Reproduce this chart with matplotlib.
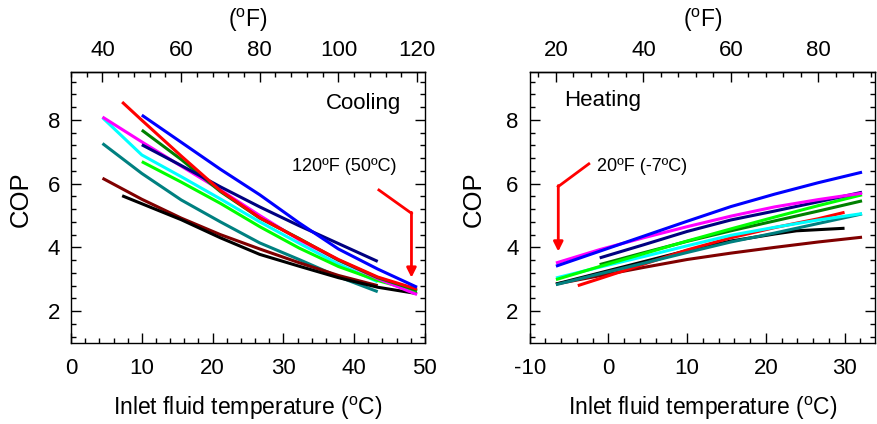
import matplotlib
matplotlib.use("Agg")
import matplotlib.pyplot as plt
from matplotlib.ticker import MultipleLocator

plt.rcParams['font.family'] = ['Liberation Sans', 'DejaVu Sans']
plt.rcParams['mathtext.fontset'] = 'custom'
plt.rcParams['mathtext.rm'] = 'Liberation Sans'
plt.rcParams['axes.unicode_minus'] = False

# Cooling mode: inlet fluid temperature (F) and COP per unit
cool_f_40 = [40, 50, 60, 70, 80, 90, 100, 110, 120]
cool_f_40_110 = [40, 50, 60, 70, 80, 90, 100, 110]
cool_f_45 = [45, 50, 60, 70, 80, 90, 100, 110, 120]
cool_f_50 = [50, 60, 70, 80, 90, 100, 110, 120]
cool_f_50_110 = [50, 60, 70, 80, 90, 100, 110]

cool_red = [8.56, 7.99, 6.87, 5.78, 4.93, 4.27, 3.62, 3.07, 2.69]
cool_blue = [8.15, 7.30, 6.45, 5.65, 4.77, 3.95, 3.32, 2.75]
cool_navy = [7.22, 6.57, 5.90, 5.27, 4.68, 4.12, 3.56]
cool_dgreen = [7.68, 6.76, 5.75, 4.92, 4.28, 3.60, 3.05, 2.65]
cool_magenta = [8.09, 7.31, 6.55, 5.80, 5.00, 4.24, 3.60, 3.02, 2.52]
cool_cyan = [8.07, 6.90, 6.22, 5.52, 4.80, 4.13, 3.48, 2.92]
cool_lime = [6.69, 6.05, 5.38, 4.65, 3.98, 3.40, 2.96, 2.62]
cool_teal = [7.26, 6.32, 5.49, 4.80, 4.14, 3.62, 3.08, 2.61]
cool_maroon = [6.17, 5.51, 4.92, 4.40, 3.95, 3.52, 3.12, 2.80]
cool_black = [5.62, 5.37, 4.87, 4.30, 3.78, 3.41, 3.05, 2.75, 2.55]

# Heating mode
heat_f_20 = [20, 30, 40, 50, 60, 70, 80, 90]
heat_f_30 = [30, 40, 50, 60, 70, 80, 90]
heat_f_black = [20, 30, 40, 50, 60, 70, 75, 86]
heat_f_red = [25, 30, 40, 50, 60, 70, 80, 86]

heat_blue = [3.41, 3.88, 4.35, 4.82, 5.28, 5.67, 6.03, 6.36]
heat_magenta = [3.51, 3.93, 4.30, 4.65, 4.98, 5.27, 5.50, 5.70]
heat_navy = [3.67, 4.08, 4.50, 4.86, 5.14, 5.43, 5.73]
heat_dgreen = [3.46, 3.83, 4.19, 4.52, 4.83, 5.14, 5.46]
heat_lime = [2.99, 3.40, 3.80, 4.20, 4.58, 4.95, 5.31, 5.65]
heat_cyan = [3.04, 3.38, 3.71, 4.05, 4.38, 4.63, 4.86, 5.06]
heat_teal = [2.83, 3.17, 3.50, 3.84, 4.17, 4.45, 4.75, 5.05]
heat_black = [2.85, 3.20, 3.55, 3.90, 4.20, 4.42, 4.52, 4.60]
heat_red = [2.80, 3.02, 3.47, 3.92, 4.30, 4.62, 4.90, 5.10]
heat_maroon = [2.85, 3.11, 3.37, 3.62, 3.82, 4.00, 4.17, 4.32]


def f2c(f):
    return [(v - 32) * 5 / 9 for v in f]


def c2f_fn(c):
    return c * 9 / 5 + 32


def f2c_fn(f):
    return (f - 32) * 5 / 9


cool_series = [
    (cool_f_40_110, cool_teal, '#008080'),
    (cool_f_40_110, cool_maroon, '#800000'),
    (cool_f_45, cool_black, 'black'),
    (cool_f_40_110, cool_cyan, '#00ffff'),
    (cool_f_50, cool_lime, '#00ff00'),
    (cool_f_40, cool_magenta, '#ff00ff'),
    (cool_f_50, cool_dgreen, '#008000'),
    (cool_f_50_110, cool_navy, '#000080'),
    (cool_f_45, cool_red, '#ff0000'),
    (cool_f_50, cool_blue, '#0000ff'),
]

heat_series = [
    (heat_f_20, heat_maroon, '#800000'),
    (heat_f_black, heat_black, 'black'),
    (heat_f_red, heat_red, '#ff0000'),
    (heat_f_20, heat_teal, '#008080'),
    (heat_f_20, heat_cyan, '#00ffff'),
    (heat_f_30, heat_dgreen, '#008000'),
    (heat_f_20, heat_lime, '#00ff00'),
    (heat_f_30, heat_navy, '#000080'),
    (heat_f_20, heat_magenta, '#ff00ff'),
    (heat_f_20, heat_blue, '#0000ff'),
]

fig = plt.figure(figsize=(8.77, 4.24), dpi=100)
ax1 = fig.add_axes([0.081, 0.191, 0.4035, 0.639])
ax2 = fig.add_axes([0.604, 0.191, 0.394, 0.639])

for f, cop, col in cool_series:
    ax1.plot(f2c(f), cop, color=col, lw=2.2, solid_capstyle='butt')
for f, cop, col in heat_series:
    ax2.plot(f2c(f), cop, color=col, lw=2.2, solid_capstyle='butt')

ax1.set_xlim(0, 50)
ax2.set_xlim(-10, 33.9)
ax1.xaxis.set_major_locator(MultipleLocator(10))
ax2.xaxis.set_major_locator(MultipleLocator(10))

for ax, fticks, lx in [(ax1, [40, 60, 80, 100, 120], -0.107),
                       (ax2, [20, 40, 60, 80], -0.126)]:
    ax.set_ylim(1.0, 9.5)
    ax.set_yticks([2, 4, 6, 8])
    ax.yaxis.set_minor_locator(MultipleLocator(0.4))
    ax.xaxis.set_minor_locator(MultipleLocator(2))
    ax.tick_params(which='both', direction='in', right=True, top=False,
                   labelsize=16, width=1)
    ax.tick_params(which='major', length=7)
    ax.tick_params(axis='x', which='major', pad=11)
    ax.tick_params(axis='y', which='major', pad=8)
    ax.tick_params(which='minor', length=3.5)
    for s in ax.spines.values():
        s.set_linewidth(1)
    ax.set_ylabel('COP', fontsize=18.5)
    ax.yaxis.set_label_coords(lx, 0.53)
    ax.set_xlabel(r'Inlet fluid temperature ($^{\mathrm{o}}$C)', fontsize=16.5,
                  labelpad=11)
    sec = ax.secondary_xaxis('top', functions=(c2f_fn, f2c_fn))
    sec.set_xticks(fticks)
    sec.xaxis.set_minor_locator(MultipleLocator(4))
    sec.tick_params(which='both', direction='in', labelsize=16, width=1)
    sec.tick_params(which='major', length=7, pad=8)
    sec.tick_params(which='minor', length=3.5)
    sec.spines['top'].set_linewidth(1)
    sec.set_xlabel(r'($^{\mathrm{o}}$F)', fontsize=16.5, labelpad=9)

# annotations
ax1.text(36.0, 8.52, 'Cooling', fontsize=16, ha='left', va='center')
ax1.text(31.2, 6.53, '120ºF (50ºC)', fontsize=13, ha='left', va='center')
ax1.plot([43.5, 48.1], [5.80, 5.07], color='red', lw=2)
ax1.annotate('', xy=(48.1, 3.05), xytext=(48.1, 5.10),
             arrowprops=dict(arrowstyle='-|>', color='red', lw=2,
                             mutation_scale=14, shrinkA=0, shrinkB=0))

ax2.text(-5.57, 8.6, 'Heating', fontsize=16, ha='left', va='center')
ax2.text(-1.43, 6.53, '20ºF (-7ºC)', fontsize=13, ha='left', va='center')
ax2.plot([-2.49, -6.37], [6.62, 5.91], color='red', lw=2)
ax2.annotate('', xy=(-6.37, 3.87), xytext=(-6.37, 5.94),
             arrowprops=dict(arrowstyle='-|>', color='red', lw=2,
                             mutation_scale=14, shrinkA=0, shrinkB=0))

fig.savefig('out.png', dpi=100)
